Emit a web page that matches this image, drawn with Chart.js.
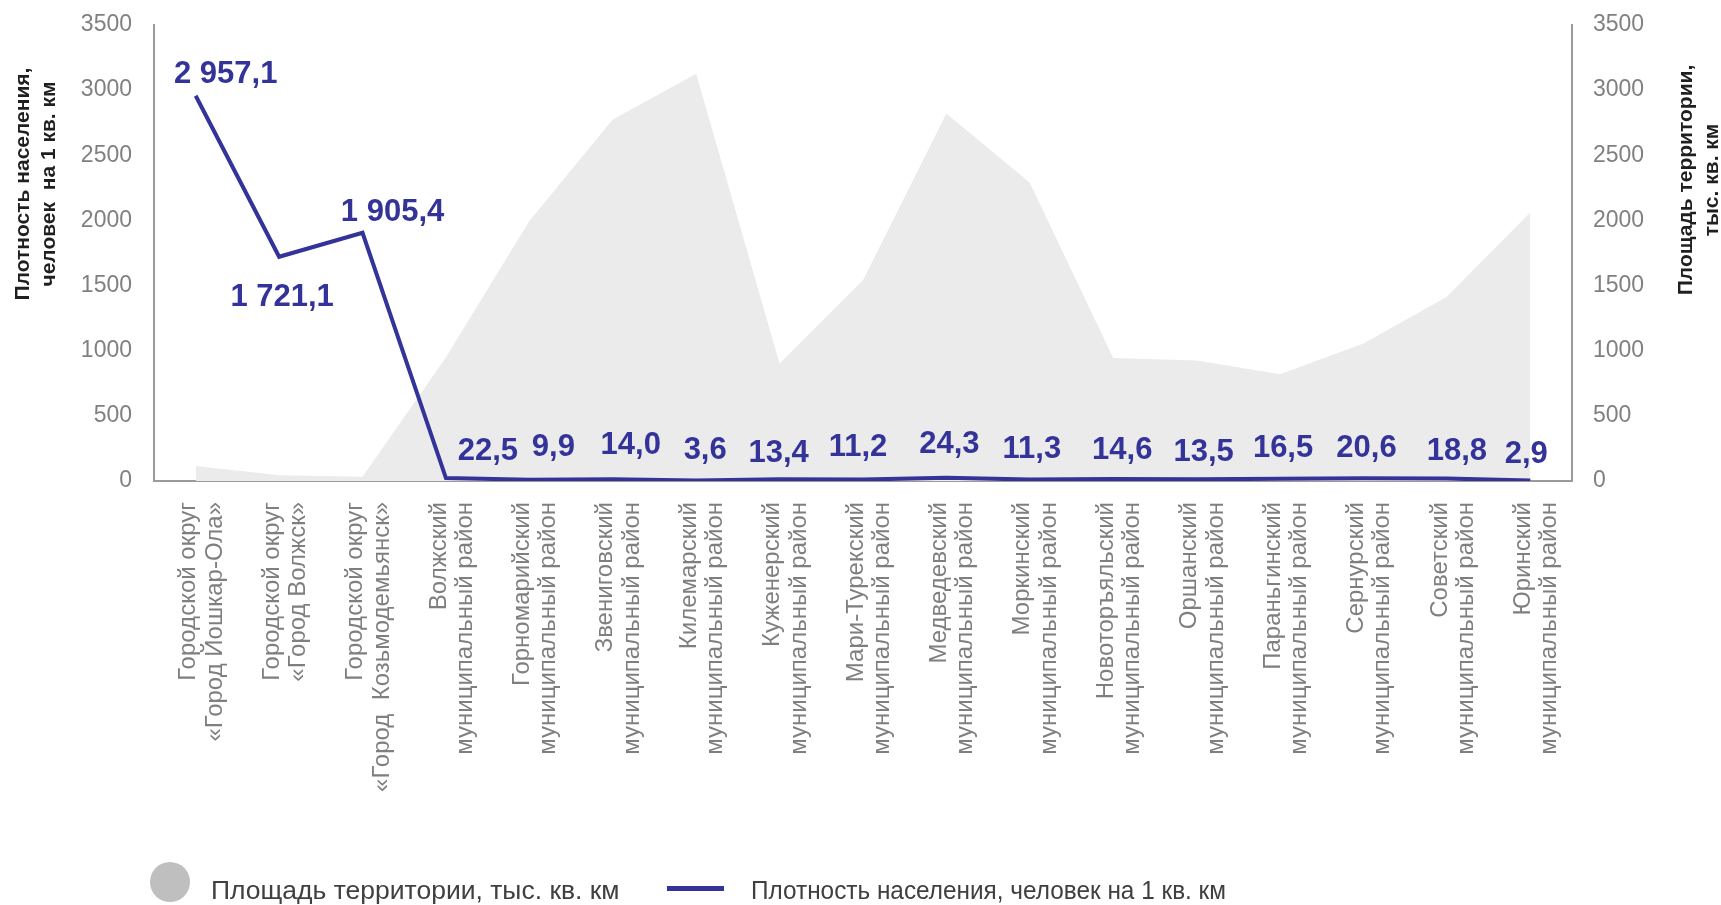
<!DOCTYPE html>
<html><head><meta charset="utf-8">
<script src="https://cdn.jsdelivr.net/npm/chart.js@4"></script>
<style>html,body{margin:0;padding:0;background:#fff;} #wrap{width:1721px;height:905px;position:relative}</style>
</head><body><div id="wrap"><canvas id="c" width="1721" height="905"></canvas></div>
<script>
// ---- data ----
const categories = [
  ["Городской округ", "«Город Йошкар-Ола»"],
  ["Городской округ", "«Город Волжск»"],
  ["Городской округ", "«Город  Козьмодемьянск»"],
  ["Волжский", "муниципальный район"],
  ["Горномарийский", "муниципальный район"],
  ["Звениговский", "муниципальный район"],
  ["Килемарский", "муниципальный район"],
  ["Куженерский", "муниципальный район"],
  ["Мари-Турекский", "муниципальный район"],
  ["Медведевский", "муниципальный район"],
  ["Моркинский", "муниципальный район"],
  ["Новоторъяльский", "муниципальный район"],
  ["Оршанский", "муниципальный район"],
  ["Параньгинский", "муниципальный район"],
  ["Сернурский", "муниципальный район"],
  ["Советский", "муниципальный район"],
  ["Юринский", "муниципальный район"]
];
const areaValues = [115, 45, 33, 950, 1995, 2775, 3125, 900, 1540, 2820, 2290, 945, 925, 820, 1055, 1415, 2060];
const densityValues = [2957.1, 1721.1, 1905.4, 22.5, 9.9, 14.0, 3.6, 13.4, 11.2, 24.3, 11.3, 14.6, 13.5, 16.5, 20.6, 18.8, 2.9];
const areaName = "Площадь территории, тыс. кв. км";
const densityName = "Плотность населения, человек на 1 кв. км";
const leftTitle = ["Плотность населения,", "человек  на 1 кв. км"];
const rightTitle = ["Площадь территории,", "тыс. кв. км"];
const axisMin = 0, axisMax = 3500, axisStep = 500;

// ---- label placement (styling only) ----
const labelShift = [[30,-21],[3,41],[30,-20],[42,-27],[24,-32],[18,-34],[9,-30],[-1,-26],[-5,-32],[3,-33],[2,-30],[9,-29],[7,-27],[3,-30],[3,-30],[10,-27],[-4,-26]];

function fmt(v){
  const s = v.toFixed(1).split('.');
  const int = s[0].replace(/\B(?=(\d{3})+(?!\d))/g, ' ');
  return int + ',' + s[1];
}

const FONT = "'Liberation Sans', Arial, sans-serif";

const labelPlugin = {
  id: 'dlabels',
  afterDatasetsDraw(chart){
    const meta = chart.getDatasetMeta(0);
    const ctx = chart.ctx;
    ctx.save();
    ctx.font = "bold 31px " + FONT;
    ctx.fillStyle = '#333399';
    ctx.textAlign = 'center';
    ctx.textBaseline = 'middle';
    meta.data.forEach((pt, i) => {
      const sh = labelShift[i] || [0,-30];
      ctx.fillText(fmt(densityValues[i]), pt.x + sh[0], pt.y + sh[1]);
    });
    ctx.restore();
  }
};

const decoPlugin = {
  id: 'deco',
  afterDraw(chart){
    const ctx = chart.ctx;
    ctx.save();
    // axis titles
    ctx.font = "bold 21px " + FONT;
    ctx.fillStyle = '#1f1f1f';
    ctx.textAlign = 'center';
    ctx.textBaseline = 'middle';
    const drawRot = (lines, x0, yc) => {
      lines.forEach((t, i) => {
        ctx.save();
        ctx.translate(x0 + i*26, yc);
        ctx.rotate(-Math.PI/2);
        ctx.fillText(t, 0, 0);
        ctx.restore();
      });
    };
    drawRot(leftTitle, 23, 184);
    drawRot(rightTitle, 1686, 180);
    // legend
    ctx.fillStyle = '#BFBFBF';
    ctx.beginPath(); ctx.arc(170, 882, 20, 0, Math.PI*2); ctx.fill();
    ctx.font = "26.5px " + FONT;
    ctx.fillStyle = '#404040';
    ctx.textAlign = 'left';
    ctx.textBaseline = 'alphabetic';
    ctx.fillText(areaName, 211, 899);
    ctx.fillStyle = '#333399';
    ctx.fillRect(667, 886, 57, 5);
    ctx.fillStyle = '#404040';
    const w = ctx.measureText(densityName).width;
    const target = 475;
    ctx.save();
    ctx.translate(751, 899);
    ctx.scale(target / w, 1);
    ctx.fillText(densityName, 0, 0);
    ctx.restore();
    ctx.restore();
  }
};

const axisColor = '#9a9a9a';
const tickCb = v => String(v);
const noPad = s => { s.paddingTop = 0; s.paddingBottom = 0; s.paddingLeft = 0; s.paddingRight = 0; };
new Chart(document.getElementById('c'), {
  type: 'line',
  data: {
    labels: categories,
    datasets: [
      {
        label: densityName,
        data: densityValues,
        yAxisID: 'y',
        borderColor: '#333399',
        backgroundColor: '#333399',
        borderWidth: 4,
        pointRadius: 0,
        tension: 0,
        fill: false,
        order: 1
      },
      {
        label: areaName,
        data: areaValues,
        yAxisID: 'y2',
        borderWidth: 0,
        borderColor: 'rgba(0,0,0,0)',
        backgroundColor: '#EBEBEB',
        pointRadius: 0,
        tension: 0,
        fill: 'origin',
        order: 2
      }
    ]
  },
  options: {
    responsive: false,
    animation: false,
    events: [],
    layout: { padding: { left: 80, right: 0, top: 25, bottom: 0 } },
    plugins: { legend: { display: false }, tooltip: { enabled: false } },
    scales: {
      x: {
        type: 'category',
        offset: true,
        grid: { display: false, drawTicks: false },
        border: { display: true, color: axisColor, width: 2 },
        ticks: {
          autoSkip: false, maxRotation: 90, minRotation: 90,
          color: '#7f7f7f', padding: 21, labelOffset: -7,
          font: { family: FONT, size: 24, lineHeight: 1.1 }
        },
        afterFit(s){ s.height = 424; noPad(s); }
      },
      y: {
        position: 'left',
        min: axisMin, max: axisMax,
        grid: { display: false, drawTicks: false },
        border: { display: true, color: axisColor, width: 2 },
        ticks: { stepSize: axisStep, callback: tickCb, color: '#808080', padding: 22, font: { family: FONT, size: 23 } },
        afterFit(s){ s.width = 74; noPad(s); }
      },
      y2: {
        position: 'right',
        min: axisMin, max: axisMax,
        grid: { display: false, drawTicks: false },
        border: { display: true, color: axisColor, width: 2 },
        ticks: { stepSize: axisStep, callback: tickCb, color: '#808080', padding: 21, font: { family: FONT, size: 23 } },
        afterFit(s){ s.width = 149; noPad(s); }
      }
    }
  },
  plugins: [labelPlugin, decoPlugin]
});
</script>
</body></html>
